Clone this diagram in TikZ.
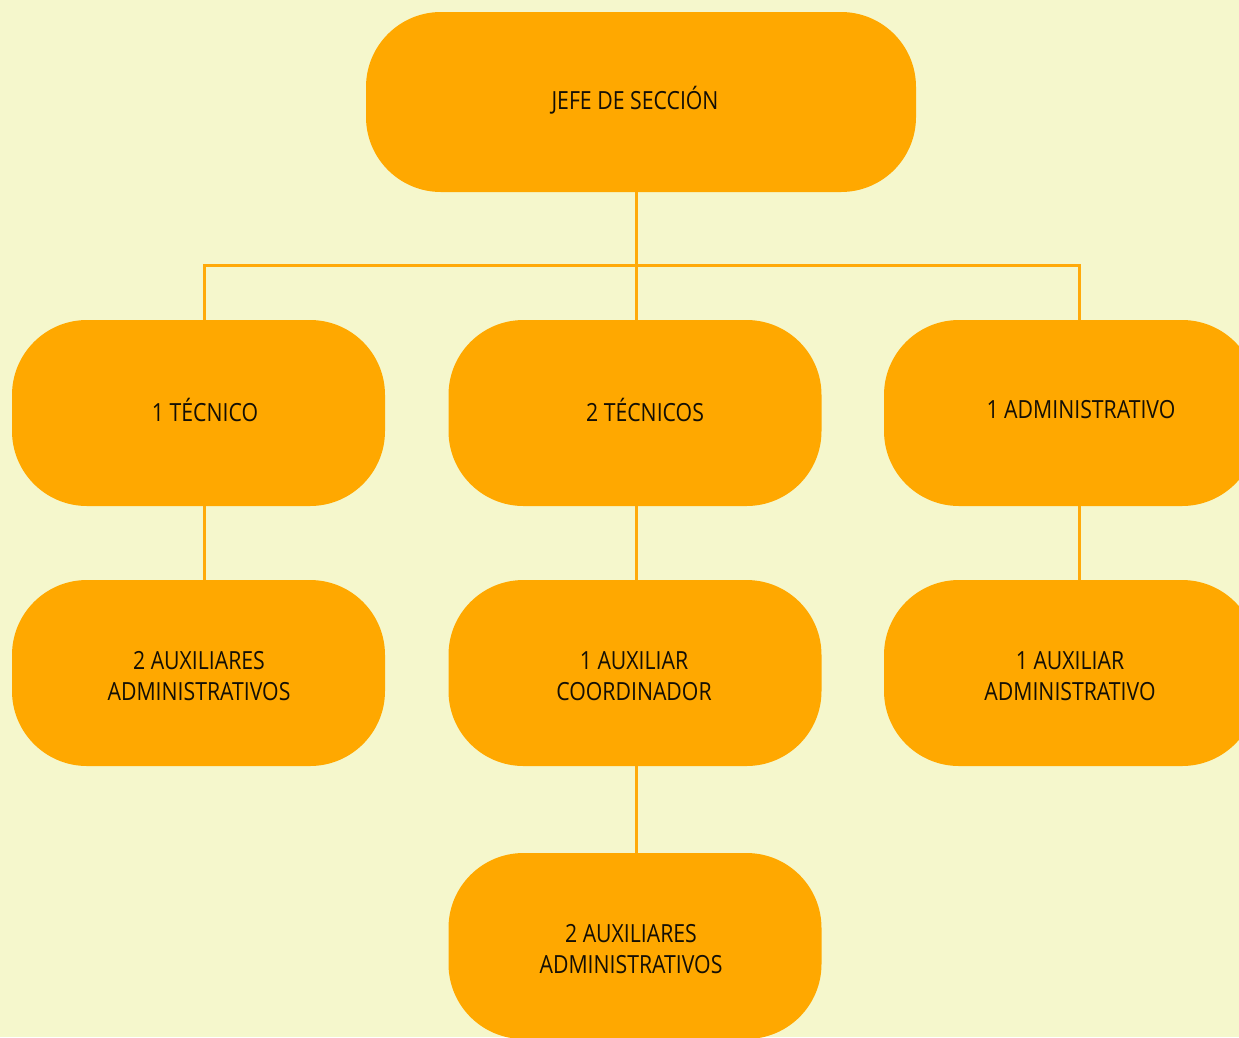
\documentclass[tikz,border=0pt]{standalone}
\usepackage{fontspec}
\setmainfont{Open Sans}[FakeStretch=0.85]
\definecolor{bg}{RGB}{245,247,204}
\definecolor{orgbox}{RGB}{255,168,0}
\definecolor{orgline}{RGB}{255,170,10}
\definecolor{txt}{RGB}{20,15,5}
\begin{document}
\begin{tikzpicture}[x=1pt,y=-1pt,
  box/.style={rectangle, rounded corners=75pt, fill=orgbox, minimum width=373pt, minimum height=186pt, inner sep=0pt},
  lbl/.style={align=center, text=txt, font=\fontsize{25}{31.5}\selectfont, inner sep=0pt},
  conn/.style={draw=orgline, line width=3pt}]
\useasboundingbox (0,0) rectangle (1239,1037);
\fill[bg] (0,0) rectangle (1239,1037);
\clip (0,0) rectangle (1239,1037);
% x positions of connectors
\coordinate (xa) at (204,0);
\coordinate (xb) at (636,0);
\coordinate (xc) at (1079,0);
\coordinate (bus) at (636,265);
\node[box, minimum width=550pt, minimum height=180pt] (jefe) at (641,102) {};
\node[box] (r2a) at (198.5,413) {};
\node[box] (r2b) at (635,413) {};
\node[box] (r2c) at (1070.5,413) {};
\node[box] (r3a) at (198.5,673) {};
\node[box] (r3b) at (635,673) {};
\node[box] (r3c) at (1070.5,673) {};
\node[box] (r4b) at (635,946) {};
\draw[conn] (jefe.south -| xb) -- (bus);
\draw[conn] (r2a.north -| xa) |- (bus) -| (r2c.north -| xc);
\draw[conn] (bus) -- (r2b.north -| xb);
\draw[conn] (r2a.south -| xa) -- (r3a.north -| xa);
\draw[conn] (r2b.south -| xb) -- (r3b.north -| xb);
\draw[conn] (r2c.south -| xc) -- (r3c.north -| xc);
\draw[conn] (r3b.south -| xb) -- (r4b.north -| xb);
% labels
\node[lbl] (t0) at (635,100) {JEFE DE SECCIÓN};
\node[lbl] (t2a) at (205,410) {1 TÉCNICO};
\node[lbl] (t2b) at (645,410) {2 TÉCNICOS};
\node[lbl] (t2c) at (1081,410) {1 ADMINISTRATIVO};
\node[lbl] (t3a) at (199,676) {2 AUXILIARES\\ADMINISTRATIVOS};
\node[lbl] (t3b) at (634,676) {1 AUXILIAR\\COORDINADOR};
\node[lbl] (t3c) at (1070,676) {1 AUXILIAR\\ADMINISTRATIVO};
\node[lbl] (t4b) at (631,949) {2 AUXILIARES\\ADMINISTRATIVOS};
\end{tikzpicture}
\end{document}
